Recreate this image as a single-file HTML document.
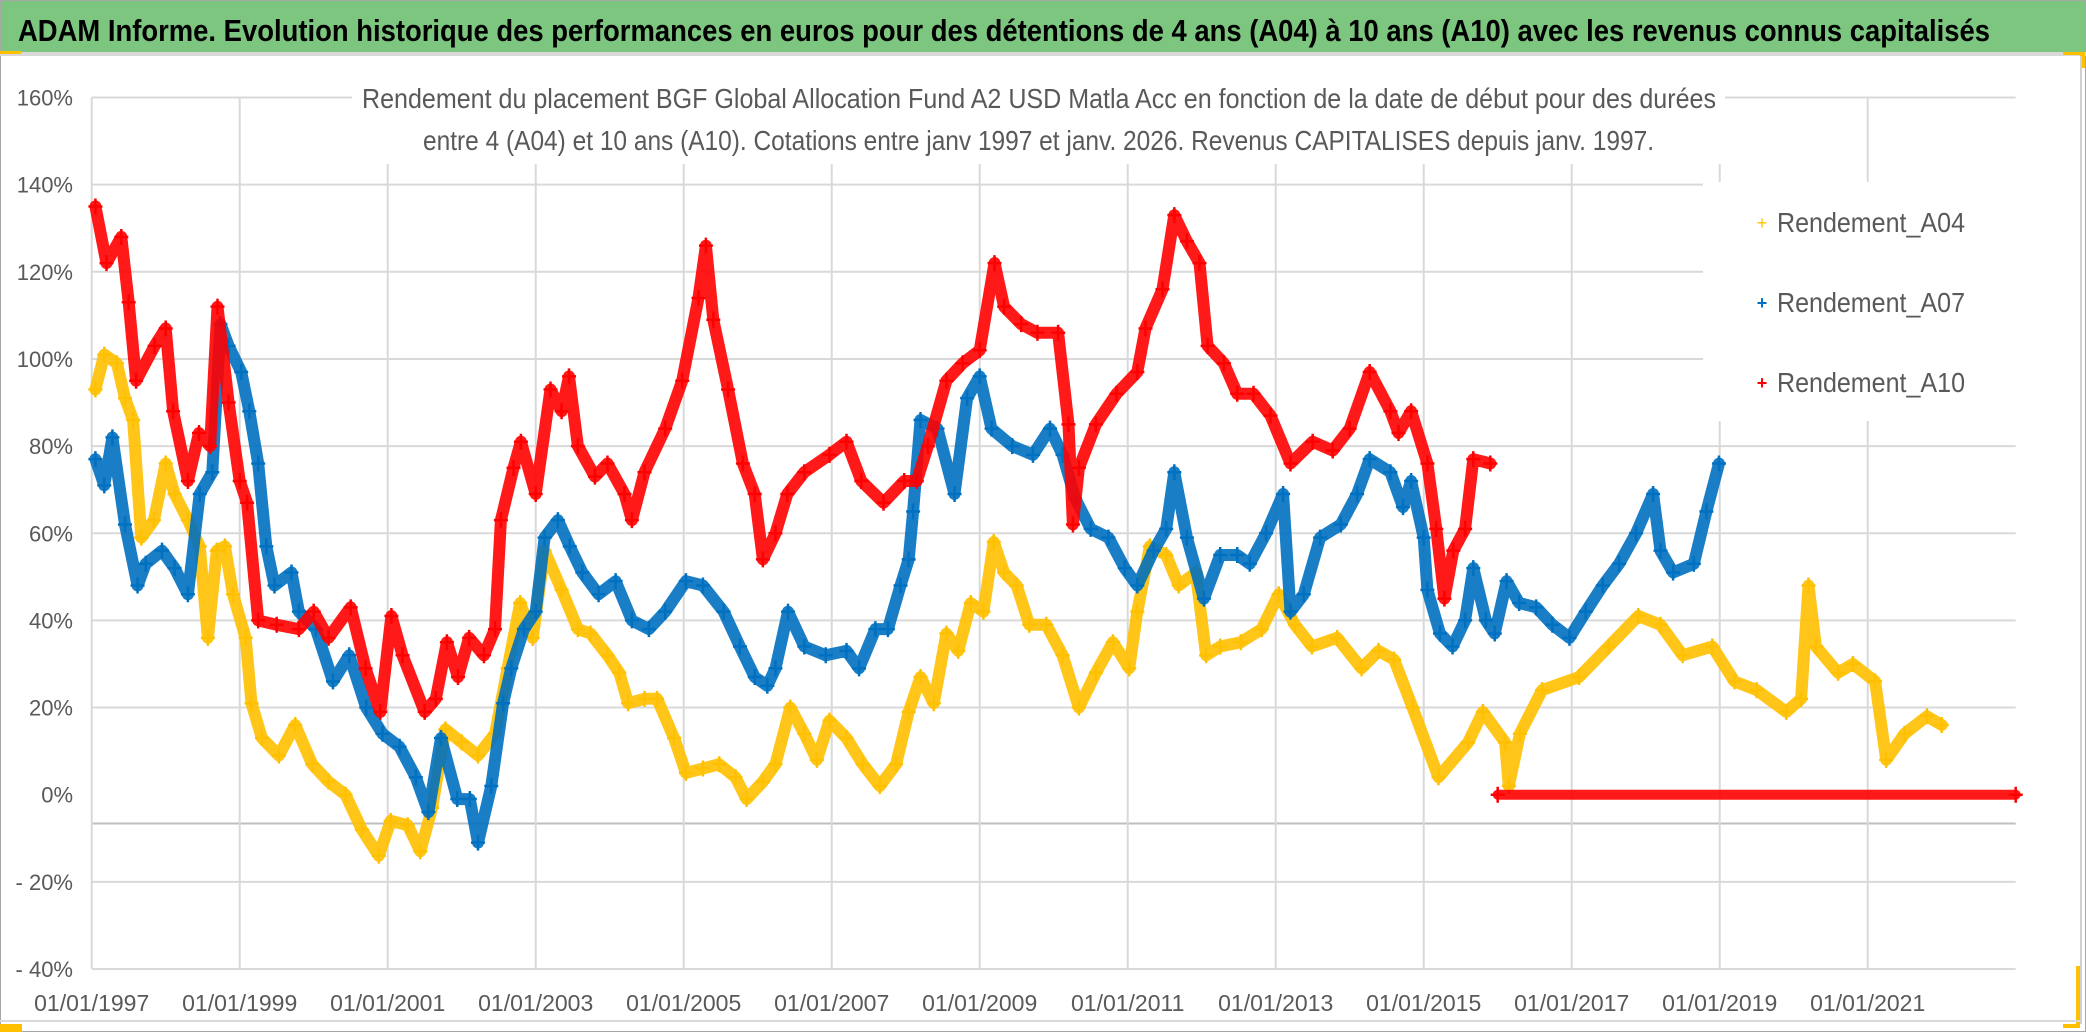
<!DOCTYPE html>
<html><head><meta charset="utf-8"><style>
html,body{margin:0;padding:0;background:#fff}
svg{display:block}
text{font-family:"Liberation Sans Narrow","Liberation Sans",sans-serif}
</style></head><body>
<svg id="chart" width="2086" height="1032" viewBox="0 0 2086 1032" xmlns="http://www.w3.org/2000/svg">
<rect x="0" y="0" width="2086" height="1032" fill="#fff"/>
<rect x="0.5" y="0.5" width="2085" height="1031" fill="none" stroke="#a6a6a6" stroke-width="1"/>
<rect x="1" y="1" width="2084" height="51" fill="#7dc67f"/>
<rect x="0" y="52" width="2086" height="4" fill="#d9d9d9"/>
<rect x="0" y="51" width="21" height="3" fill="#ffc000"/>
<rect x="2063" y="52" width="22" height="3" fill="#ffc000"/>
<rect x="2080" y="52" width="5" height="16" fill="#ffc000"/>
<rect x="2076" y="966" width="4" height="62" fill="#ffc000"/>
<rect x="2063" y="1024" width="17" height="4" fill="#ffc000"/>
<rect x="2080" y="56" width="2" height="968" fill="#d0d0d0"/>
<rect x="0" y="1020" width="2080" height="2" fill="#d9d9d9"/>
<rect x="0" y="1024" width="22" height="8" fill="#ffc000"/>
<text x="18" y="41" font-size="31" font-weight="bold" fill="#000" textLength="1972" lengthAdjust="spacingAndGlyphs">ADAM Informe. Evolution historique des performances en euros pour des détentions de 4 ans (A04) à 10 ans (A10) avec les revenus connus capitalisés</text>
<g id="grid"></g>
<g id="axes"></g>
<g id="series"></g>
<rect x="352" y="80" width="1373" height="84" fill="#fff"/>
<text x="362" y="108" font-size="28" fill="#595959" textLength="1354" lengthAdjust="spacingAndGlyphs">Rendement du placement BGF Global Allocation Fund A2 USD Matla Acc en fonction de la date de début pour des durées</text>
<text x="423" y="150" font-size="28" fill="#595959" textLength="1231" lengthAdjust="spacingAndGlyphs">entre 4 (A04) et 10 ans (A10). Cotations entre janv 1997 et janv. 2026. Revenus CAPITALISES depuis janv. 1997.</text>
<g>
<rect x="1703" y="182" width="313" height="239" fill="#fff"/>
<g><text x="1762" y="229" font-size="18" fill="#ffc000" text-anchor="middle">+</text><text x="1777" y="232" font-size="28" fill="#595959" textLength="188" lengthAdjust="spacingAndGlyphs">Rendement_A04</text></g>
<g><text x="1762" y="309" font-size="18" fill="#0070c0" text-anchor="middle" font-weight="bold">+</text><text x="1777" y="312" font-size="28" fill="#595959" textLength="188" lengthAdjust="spacingAndGlyphs">Rendement_A07</text></g>
<g><text x="1762" y="389" font-size="18" fill="#ff0000" text-anchor="middle" font-weight="bold">+</text><text x="1777" y="392" font-size="28" fill="#595959" textLength="188" lengthAdjust="spacingAndGlyphs">Rendement_A10</text></g>
</g>
</svg>
<script>
const yTicks=[160,140,120,100,80,60,40,20,0,-20,-40];
const yTickLabels=["160%","140%","120%","100%","80%","60%","40%","20%","0%","- 20%","- 40%"];
const xTicks=[1997,1999,2001,2003,2005,2007,2009,2011,2013,2015,2017,2019,2021];
const xTickLabels=["01/01/1997","01/01/1999","01/01/2001","01/01/2003","01/01/2005","01/01/2007","01/01/2009","01/01/2011","01/01/2013","01/01/2015","01/01/2017","01/01/2019","01/01/2021"];

const a04Dates=[1997.05,1997.17,1997.34,1997.45,1997.56,1997.67,1997.84,1998.0,1998.12,1998.3,1998.46,1998.57,1998.69,1998.8,1998.91,1999.08,1999.16,1999.3,1999.53,1999.75,1999.98,2000.2,2000.43,2000.65,2000.88,2001.04,2001.27,2001.44,2001.6,2001.78,2002.0,2002.22,2002.45,2002.62,2002.79,2002.96,2003.12,2003.35,2003.57,2003.74,2003.97,2004.13,2004.25,2004.47,2004.64,2004.87,2005.03,2005.26,2005.48,2005.7,2005.85,2006.07,2006.24,2006.44,2006.63,2006.8,2006.97,2007.2,2007.42,2007.65,2007.87,2008.04,2008.2,2008.38,2008.55,2008.71,2008.88,2009.05,2009.19,2009.33,2009.5,2009.67,2009.9,2010.12,2010.34,2010.57,2010.8,2011.02,2011.13,2011.3,2011.52,2011.69,2011.92,2012.06,2012.25,2012.53,2012.81,2013.04,2013.26,2013.49,2013.83,2014.16,2014.39,2014.6,2014.85,2015.2,2015.6,2015.8,2016.1,2016.15,2016.3,2016.6,2017.1,2017.5,2017.9,2018.2,2018.5,2018.9,2019.2,2019.5,2019.9,2020.1,2020.2,2020.3,2020.6,2020.8,2021.1,2021.25,2021.5,2021.8,2022.0];
const a04Values=[93,101,99,91,86,59,63,76,69,63,57,36,56,57,46,36,21,13,9,16,7,3,0,-8,-14,-6,-7,-13,-3,15,12,9,14,29,44,36,56,47,38,37,32,28,21,22,22,13,5,6,7,4,-1,3,7,20,14,8,17,13,7,2,7,19,27,21,37,33,44,42,58,51,48,39,39,32,20,28,35,29,42,57,55,48,51,32,34,35,38,46,39,34,36,29,33,31,20,4,12,19,12,2,14,24,27,34,41,39,32,34,26,24,19,22,48,34,28,30,26,8,14,18,16];

const a07Dates=[1997.05,1997.17,1997.28,1997.45,1997.62,1997.73,1997.95,1998.12,1998.3,1998.46,1998.63,1998.74,1998.85,1999.02,1999.13,1999.25,1999.36,1999.47,1999.7,1999.8,2000.03,2000.26,2000.48,2000.71,2000.93,2001.16,2001.38,2001.55,2001.72,2001.94,2002.11,2002.22,2002.4,2002.56,2002.67,2002.84,2003.0,2003.12,2003.3,2003.46,2003.63,2003.85,2004.08,2004.3,2004.53,2004.75,2005.03,2005.26,2005.54,2005.76,2005.96,2006.13,2006.24,2006.41,2006.63,2006.92,2007.2,2007.37,2007.59,2007.76,2007.93,2008.04,2008.1,2008.2,2008.43,2008.66,2008.83,2009.0,2009.16,2009.44,2009.72,2009.95,2010.12,2010.29,2010.5,2010.74,2010.96,2011.13,2011.35,2011.52,2011.63,2011.8,2012.03,2012.25,2012.48,2012.65,2012.87,2013.1,2013.2,2013.38,2013.6,2013.88,2014.1,2014.27,2014.55,2014.72,2014.83,2015.0,2015.05,2015.22,2015.39,2015.56,2015.67,2015.84,2015.96,2016.12,2016.29,2016.52,2016.74,2016.97,2017.19,2017.42,2017.64,2017.87,2018.1,2018.2,2018.37,2018.65,2018.82,2018.99];
const a07Values=[77,71,82,62,48,53,56,52,46,69,74,108,103,97,88,76,57,48,51,42,38,26,32,20,14,11,4,-4,13,-1,-1,-11,2,21,29,38,42,59,63,57,51,46,49,40,38,42,49,48,42,34,27,25,29,42,34,32,33,29,38,38,48,54,65,86,84,69,91,96,84,80,78,84,78,68,61,59,52,48,56,61,74,59,45,55,55,53,60,69,42,46,59,62,69,77,74,66,72,59,47,37,34,40,52,40,37,49,44,43,39,36,42,48,53,60,69,56,51,53,65,76];

const a10Dates=[1997.05,1997.2,1997.4,1997.5,1997.6,1997.85,1998.0,1998.1,1998.3,1998.45,1998.6,1998.7,1998.85,1999.0,1999.1,1999.25,1999.5,1999.8,2000.0,2000.2,2000.5,2000.7,2000.9,2001.05,2001.2,2001.5,2001.65,2001.8,2001.95,2002.1,2002.3,2002.45,2002.53,2002.7,2002.8,2003.0,2003.2,2003.35,2003.45,2003.57,2003.8,2003.97,2004.2,2004.3,2004.47,2004.75,2004.98,2005.2,2005.3,2005.4,2005.6,2005.8,2005.96,2006.07,2006.24,2006.4,2006.63,2006.97,2007.2,2007.4,2007.7,2007.98,2008.15,2008.3,2008.55,2008.77,2009.0,2009.2,2009.33,2009.56,2009.78,2010.06,2010.2,2010.26,2010.34,2010.57,2010.85,2011.13,2011.24,2011.47,2011.63,2011.8,2011.97,2012.08,2012.3,2012.48,2012.7,2012.93,2013.2,2013.5,2013.77,2014.0,2014.27,2014.55,2014.66,2014.83,2015.05,2015.17,2015.28,2015.4,2015.56,2015.67,2015.9];
const a10Values=[135,122,128,113,95,103,107,88,72,83,80,112,90,72,67,40,39,38,42,36,43,29,19,41,32,19,22,35,27,36,32,38,63,75,81,69,93,88,96,80,73,76,69,63,74,84,95,114,126,109,93,76,69,54,60,69,74,78,81,72,67,72,72,80,95,99,102,122,112,108,106,106,85,62,75,85,92,97,107,116,133,127,122,103,99,92,92,87,76,81,79,84,97,88,83,88,76,61,45,56,61,77,76];

const zeroDates=[2016.0,2023.0];
const zeroValues=[0,0];

const X0=91.7, PXY=74, Y0=794.7, PXP=4.3575;
function xs(t){return X0+(t-1997)*PXY;}
function ys(v){return Y0-v*PXP;}
const NS="http://www.w3.org/2000/svg";
function mk(tag,attrs,parent){const e=document.createElementNS(NS,tag);for(const k in attrs)e.setAttribute(k,attrs[k]);parent.appendChild(e);return e;}

const grid=document.getElementById('grid');
const axes=document.getElementById('axes');
yTicks.forEach((v,i)=>{
  if(v!==0){
    const l=mk('line',{x1:xs(1997),x2:xs(2023),y1:ys(v),y2:ys(v),stroke:'#d9d9d9','stroke-width':2},grid);
    
    
  }
  const t=mk('text',{x:73,y:ys(v)+8,'font-size':22,fill:'#595959','text-anchor':'end'},axes);
  t.textContent=yTickLabels[i];
  
  
});
const xl=mk('line',{x1:xs(1997),x2:xs(2023),y1:ys(-6.6),y2:ys(-6.6),stroke:'#bfbfbf','stroke-width':2},grid);


const yl=mk('line',{x1:xs(1997),x2:xs(1997),y1:ys(160),y2:ys(-40),stroke:'#d9d9d9','stroke-width':2},grid);


xTicks.forEach((t,i)=>{
  if(i>0){
    const l=mk('line',{x1:xs(t),x2:xs(t),y1:ys(160),y2:ys(-40),stroke:'#d9d9d9','stroke-width':2},grid);
    
    
  }
  const tx=mk('text',{x:xs(t),y:1011,'font-size':23,fill:'#595959','text-anchor':'middle'},axes);
  tx.textContent=xTickLabels[i];
  
  
});

const series=document.getElementById('series');
function drawSeries(dates,values,color,name,w){
  const g=mk('g',{},series);
  
  
  const pts=dates.map((d,i)=>xs(d).toFixed(1)+','+ys(values[i]).toFixed(1)).join(' ');
  const pl=mk('polyline',{points:pts,fill:'none',stroke:color,'stroke-width':w,'stroke-linejoin':'round','stroke-linecap':'round','opacity':0.9},g);
  
  
  dates.forEach((d,i)=>{
    const x=xs(d),y=ys(values[i]);
    const p=mk('path',{d:`M${x-7},${y}H${x+7}M${x},${y-8}V${y+8}`,stroke:color,'stroke-width':2.5},g);
    
    
  });
}
drawSeries(a04Dates,a04Values,'#ffc000','series-a04',12);
drawSeries(a07Dates,a07Values,'#0070c0','series-a07',12);
drawSeries(a10Dates,a10Values,'#ff0000','series-a10',12);
drawSeries(zeroDates,zeroValues,'#ff0000','series-a10-zero',10);
</script>
</body></html>
